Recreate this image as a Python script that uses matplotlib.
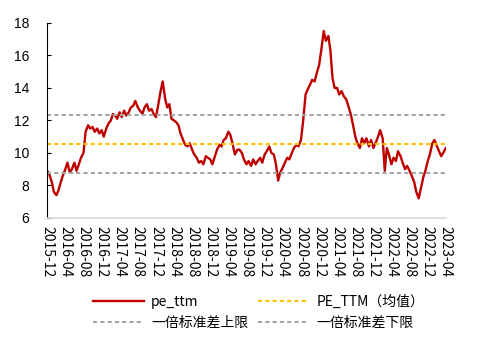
import numpy as np
import pandas as pd
import matplotlib
matplotlib.use('Agg')
import matplotlib.pyplot as plt

plt.rcParams['font.family'] = ['Noto Sans CJK SC', 'DejaVu Sans']

# semi-monthly readings of pe_ttm, 2015-12-01 .. 2023-04-01
pe_ttm = [
    8.9, 8.7, 8.2, 7.6, 7.4, 7.7, 8.2, 8.6, 9.0, 9.4,
    8.8, 9.0, 9.4, 8.9, 9.3, 9.7, 10.0, 11.3, 11.7, 11.5,
    11.6, 11.3, 11.5, 11.2, 11.4, 11.0, 11.5, 11.8, 12.0, 12.4,
    12.3, 12.1, 12.5, 12.2, 12.6, 12.3, 12.5, 12.8, 12.9, 13.2,
    12.8, 12.6, 12.4, 12.8, 13.0, 12.6, 12.7, 12.4, 12.2, 12.9,
    13.8, 14.4, 13.3, 12.8, 13.0, 12.1, 12.0, 11.9, 11.7, 11.2,
    10.8, 10.5, 10.4, 10.6, 10.2, 9.9, 9.7, 9.4, 9.5, 9.3,
    9.8, 9.7, 9.6, 9.3, 9.8, 10.2, 10.5, 10.4, 10.8, 10.9,
    11.3, 11.1, 10.5, 9.9, 10.2, 10.2, 10.0, 9.6, 9.3, 9.5,
    9.2, 9.6, 9.3, 9.5, 9.7, 9.4, 9.9, 10.1, 10.4, 10.0,
    9.9, 9.3, 8.3, 8.8, 9.1, 9.4, 9.7, 9.6, 10.0, 10.3,
    10.5, 10.4, 10.8, 11.9, 13.6, 13.9, 14.2, 14.5, 14.4, 14.9,
    15.4, 16.3, 17.5, 16.9, 17.2, 16.3, 14.6, 14.0, 14.0, 13.6,
    13.8, 13.5, 13.3, 12.9, 12.4, 11.8, 11.0, 10.6, 10.3, 10.9,
    10.6, 10.9, 10.4, 10.8, 10.3, 10.6, 11.0, 11.4, 10.9, 8.9,
    10.3, 9.9, 9.3, 9.7, 9.5, 10.1, 9.8, 9.4, 9.0, 9.2,
    8.9, 8.6, 8.2, 7.6, 7.2, 7.8, 8.5, 8.9, 9.5, 9.9,
    10.6, 10.8, 10.4, 10.1, 9.8, 10.0, 10.3,
]
dates = pd.date_range('2015-12-01', periods=len(pe_ttm), freq='SMS')

pe_mean = 10.55
upper = 12.35
lower = 8.75

tick_dates = pd.date_range('2015-12-01', '2023-04-01', freq='4MS')
tick_labels = [d.strftime('%Y-%m') for d in tick_dates]

fig = plt.figure(figsize=(5.02, 3.47), dpi=100)
ax = fig.add_axes([0.094, 0.372, 0.794, 0.562])

l1, = ax.plot(dates, pe_ttm, color='#C00000', lw=1.7, label='pe_ttm')
l2, = ax.plot([dates[0], dates[-1]], [pe_mean, pe_mean], color='#FFC000', lw=1.5,
              ls=(0, (2, 1.5)), label='PE_TTM（均值）')
l3, = ax.plot([dates[0], dates[-1]], [upper, upper], color='#A5A5A5', lw=1.5,
              ls=(0, (2, 1.5)), label='一倍标准差上限')
l4, = ax.plot([dates[0], dates[-1]], [lower, lower], color='#A5A5A5', lw=1.5,
              ls=(0, (2, 1.5)), label='一倍标准差下限')

ax.set_ylim(6, 18)
ax.set_yticks(np.arange(6, 19, 2))
ax.set_xlim(tick_dates[0], tick_dates[-1])
ax.set_xticks(tick_dates)
ax.set_xticklabels(tick_labels, rotation=-90, fontsize=10)

for lab in ax.get_yticklabels():
    lab.set_family('Liberation Sans')
    lab.set_fontsize(10)
ax.tick_params(axis='y', direction='in', length=3, pad=13)
ax.tick_params(axis='x', length=0, pad=6)

ax.spines['top'].set_visible(False)
ax.spines['right'].set_visible(False)
ax.spines['bottom'].set_color('#D9D9D9')
ax.spines['bottom'].set_linewidth(1.2)

# legend fills column-wise: order so rows read pe_ttm / 均值, 上限 / 下限
handles = [l1, l3, l2, l4]
fig.legend(handles, [h.get_label() for h in handles], loc='center',
           bbox_to_anchor=(0.515, 0.1), ncol=2, frameon=False,
           fontsize=10, handlelength=3.7, columnspacing=0.7, handletextpad=0.5,
           labelspacing=0.55)

fig.savefig('out.png', dpi=100)
